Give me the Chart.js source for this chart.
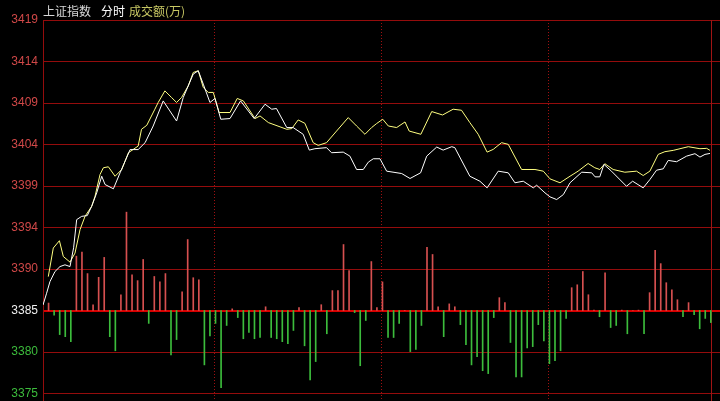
<!DOCTYPE html>
<html>
<head>
<meta charset="utf-8">
<script src="https://cdn.jsdelivr.net/npm/chart.js@4.4.0/dist/chart.umd.min.js"></script>
<style>
  html, body { margin: 0; padding: 0; background: #000; }
  #wrap { position: relative; width: 720px; height: 401px; overflow: hidden; background: #000; }
  .ttl { position: absolute; top: 5px; font: 12px/12px "Noto Sans CJK SC", sans-serif; white-space: pre; }
</style>
</head>
<body>
<div id="wrap">
  <canvas id="chart" width="720" height="401"></canvas>
  <span class="ttl" style="left:43px;color:#d8d8d8">上证指数</span>
  <span class="ttl" style="left:101px;color:#ffffff">分时</span>
  <span class="ttl" style="left:129px;color:#c8c864">成交额(万)</span>
</div>
<script>
// 价格刻度 (自下而上)
const priceLabels = ['3375', '3380', '3385', '3390', '3394', '3399', '3404', '3409', '3414', '3419'];
const basePrice = 3385.4;
const priceStep = 4.75;

// 分隔线位置 (分钟序号) 与收盘位置
const sessionMarks = [61.5, 121.5, 181.5];
const closeMark = 240;

// 指数走势 (白线)
const indexMin = [0, 1.3, 2.5, 4.3, 6.1, 7.9, 9.7, 11.0, 12.1, 13.9,
  15.9, 17.5, 19.3, 21.1, 22.3, 25.3, 27.7, 31.3, 34.2, 36.7,
  39.6, 43.2, 45.6, 48.0, 50.4, 54.0, 55.8, 57.6, 60.0, 61.8,
  63.9, 67.2, 71.0, 75.9, 79.8, 82.2, 83.9, 87.6, 89.9, 93.5,
  95.7, 97.7, 101.9, 103.7, 107.9, 110.3, 112.7, 115.1, 116.9, 118.7,
  121.1, 123.5, 128.9, 131.9, 135.7, 137.9, 141.5, 143.8, 146.9, 148.0,
  153.4, 157.0, 159.6, 163.6, 167.2, 169.6, 172.6, 176.2, 177.4, 180.4,
  182.2, 184.6, 187.0, 189.4, 193.6, 197.2, 198.4, 200.1, 201.6, 204.3,
  209.7, 211.9, 215.7, 218.1, 220.5, 222.9, 224.7, 227.7, 231.3, 234.3,
  236.1, 237.9, 239.7];
const indexPrice = [3386.03, 3387.38, 3388.71, 3389.86, 3390.43, 3390.63, 3390.43, 3392.58, 3395.80, 3396.18,
  3396.26, 3397.33, 3398.87, 3400.77, 3399.82, 3399.33, 3401.16, 3403.82, 3403.82, 3404.61,
  3406.52, 3409.39, 3408.24, 3407.09, 3409.78, 3412.46, 3412.84, 3411.31, 3409.21, 3409.67,
  3407.29, 3407.37, 3409.39, 3407.37, 3409.01, 3408.44, 3408.52, 3406.34, 3406.34, 3405.57,
  3403.76, 3403.92, 3404.04, 3403.46, 3403.53, 3403.07, 3401.54, 3401.54, 3402.38, 3402.77,
  3402.77, 3401.35, 3401.08, 3400.51, 3401.16, 3403.07, 3404.11, 3403.76, 3404.15, 3404.04,
  3400.77, 3400.20, 3399.44, 3401.35, 3401.16, 3400.02, 3400.20, 3399.44, 3399.74, 3398.87,
  3398.41, 3398.10, 3398.67, 3400.02, 3401.23, 3401.16, 3400.70, 3400.70, 3402.12, 3401.35,
  3399.62, 3400.20, 3399.44, 3400.39, 3401.46, 3401.62, 3402.58, 3402.43, 3403.07, 3403.35,
  3402.96, 3403.27, 3403.38];

// 领先指标 (黄线)
const leadMin = [1.9, 3.7, 5.9, 7.3, 9.7, 11.5, 13.3, 15.1, 17.5, 18.7,
  20.5, 21.7, 23.5, 25.9, 28.3, 30.7, 34.2, 35.4, 37.3, 40.2,
  41.4, 43.8, 46.2, 48.0, 49.8, 52.2, 54.0, 55.8, 57.6, 59.4,
  61.2, 63.3, 67.2, 69.8, 72.0, 76.2, 78.0, 81.0, 87.6, 89.4,
  91.7, 94.1, 97.1, 98.9, 101.9, 105.5, 109.7, 112.7, 115.7, 118.1,
  119.9, 122.1, 124.1, 127.1, 130.1, 131.6, 135.8, 139.7, 143.6, 147.4,
  150.4, 153.4, 156.4, 159.6, 161.8, 164.8, 167.2, 172.0, 176.8, 179.8,
  182.2, 185.8, 189.4, 192.3, 195.9, 198.3, 200.1, 201.9, 204.9, 209.1,
  213.3, 215.7, 218.1, 221.1, 223.5, 226.5, 231.9, 236.1, 238.5, 239.7];
const leadPrice = [3389.28, 3392.55, 3393.39, 3391.58, 3390.94, 3391.97, 3394.65, 3396.18, 3397.33, 3398.48,
  3400.97, 3401.74, 3401.85, 3400.77, 3401.54, 3403.46, 3404.22, 3406.14, 3406.60, 3408.44,
  3409.21, 3410.54, 3409.78, 3409.21, 3409.78, 3411.11, 3412.65, 3412.84, 3410.93, 3410.36,
  3410.36, 3408.06, 3408.06, 3409.67, 3409.39, 3407.37, 3407.67, 3406.91, 3406.14, 3406.22,
  3407.21, 3406.83, 3404.61, 3404.30, 3404.61, 3405.94, 3407.48, 3406.52, 3405.57, 3406.34,
  3406.80, 3407.29, 3406.52, 3406.34, 3406.98, 3405.94, 3405.57, 3408.17, 3407.78, 3408.44,
  3408.32, 3406.91, 3405.57, 3403.53, 3403.84, 3404.61, 3404.42, 3401.54, 3401.54, 3401.35,
  3400.47, 3400.02, 3400.77, 3401.35, 3402.23, 3401.74, 3401.54, 3402.20, 3401.54, 3401.23,
  3401.35, 3400.85, 3401.35, 3403.27, 3403.58, 3403.73, 3404.15, 3403.92, 3403.96, 3403.73];

// 成交额差 (万), 每2分钟一根
const volDiff = [180, -110, -580, -630, -750, 1310, 1410, 890, 140, 800,
  1280, -630, -970, 380, 2370, 860, 720, 1230, -310, 820,
  690, 890, -1070, -700, 450, 1710, 790, 740, -1310, -610,
  -310, -1860, -360, 40, -170, -680, -530, -680, -650, 90,
  -650, -680, -750, -800, -480, 70, -850, -1670, -1230, 140,
  -560, 480, 480, 1590, 960, -50, -1330, -240, 1180, 70,
  690, -650, -650, -310, 0, -990, -940, -360, 1520, 1350,
  90, -630, 160, 90, -340, -820, -1310, -1110, -1450, -1520,
  -170, 310, 190, -770, -1600, -1600, -900, -870, -340, -730,
  -1280, -1210, -970, -190, 550, 620, 940, 380, 10, -150,
  910, -410, -360, 10, -560, 0, 10, -560, 430, 1450,
  1130, 670, 500, 260, -150, 190, -100, -440, -190, -290];
const volStep = 1000;

const RED_GRID = '#940c0c';
const RED_BASE = '#d80000';
const RED_TXT = '#d04848';
const GREEN_TXT = '#3cbc3c';

const zip = (xs, ys) => xs.map((x, i) => ({ x: x, y: ys[i] }));
const volData = volDiff.map((v, i) => ({ x: 2 * i + 2, y: v }));

// 分隔线 (点线) 与收盘竖线
const sessionLines = {
  id: 'sessionLines',
  beforeDatasetsDraw(chart) {
    const { ctx, chartArea, scales } = chart;
    ctx.save();
    ctx.lineWidth = 1;
    ctx.strokeStyle = '#a01010';
    ctx.setLineDash([1, 2]);
    sessionMarks.forEach(v => {
      const x = Math.round(scales.x.getPixelForValue(v)) + 0.5;
      ctx.beginPath();
      ctx.moveTo(x, chartArea.top);
      ctx.lineTo(x, chartArea.bottom);
      ctx.stroke();
    });
    ctx.setLineDash([]);
    const xc = Math.round(scales.x.getPixelForValue(closeMark)) + 0.5;
    ctx.strokeStyle = '#a01414';
    ctx.beginPath();
    ctx.moveTo(xc, chartArea.top);
    ctx.lineTo(xc, chartArea.bottom);
    ctx.stroke();
    ctx.restore();
  }
};

const ctx = document.getElementById('chart').getContext('2d');
new Chart(ctx, {
  data: {
    datasets: [
      {
        type: 'line',
        label: '领先',
        data: zip(leadMin, leadPrice),
        yAxisID: 'y',
        borderColor: '#ffff80',
        borderWidth: 1,
        pointRadius: 0,
        tension: 0,
        order: 1
      },
      {
        type: 'line',
        label: '上证指数',
        data: zip(indexMin, indexPrice),
        yAxisID: 'y',
        borderColor: '#ffffff',
        borderWidth: 1,
        pointRadius: 0,
        tension: 0,
        order: 0
      },
      {
        type: 'bar',
        label: '成交额',
        data: volData,
        yAxisID: 'yv',
        barThickness: 1,
        backgroundColor: c => (c.raw && c.raw.y < 0 ? GREEN_TXT : '#d65050'),
        order: 2
      }
    ]
  },
  options: {
    responsive: false,
    devicePixelRatio: 1,
    animation: false,
    layout: { padding: { top: 20, left: 0, right: 0, bottom: 0 } },
    plugins: {
      legend: { display: false },
      tooltip: { enabled: false }
    },
    scales: {
      x: {
        type: 'linear',
        display: false,
        offset: false,
        min: 0,
        max: 243.3
      },
      y: {
        type: 'linear',
        position: 'left',
        min: basePrice - 2.18 * priceStep,
        max: basePrice + 7 * priceStep,
        afterBuildTicks: s => {
          s.ticks = priceLabels.map((_, k) => ({ value: basePrice + (k - 2) * priceStep }));
        },
        afterFit: s => {
          s.width = 43;
          s.paddingTop = 0;
          s.paddingBottom = 0;
        },
        ticks: {
          padding: 5,
          font: { family: 'Liberation Sans', size: 12 },
          color: c => (c.index < 2 ? GREEN_TXT : c.index === 2 ? '#f0f0f0' : RED_TXT),
          callback: (v, i) => priceLabels[i]
        },
        grid: {
          drawTicks: false,
          color: c => (c.index === 2 ? RED_BASE : RED_GRID),
          lineWidth: c => (c.index === 2 ? 2 : 1)
        },
        border: { display: true, color: RED_GRID, width: 1 }
      },
      yv: {
        type: 'linear',
        display: false,
        min: -2.18 * volStep,
        max: 7 * volStep
      }
    }
  },
  plugins: [sessionLines]
});
</script>
</body>
</html>
